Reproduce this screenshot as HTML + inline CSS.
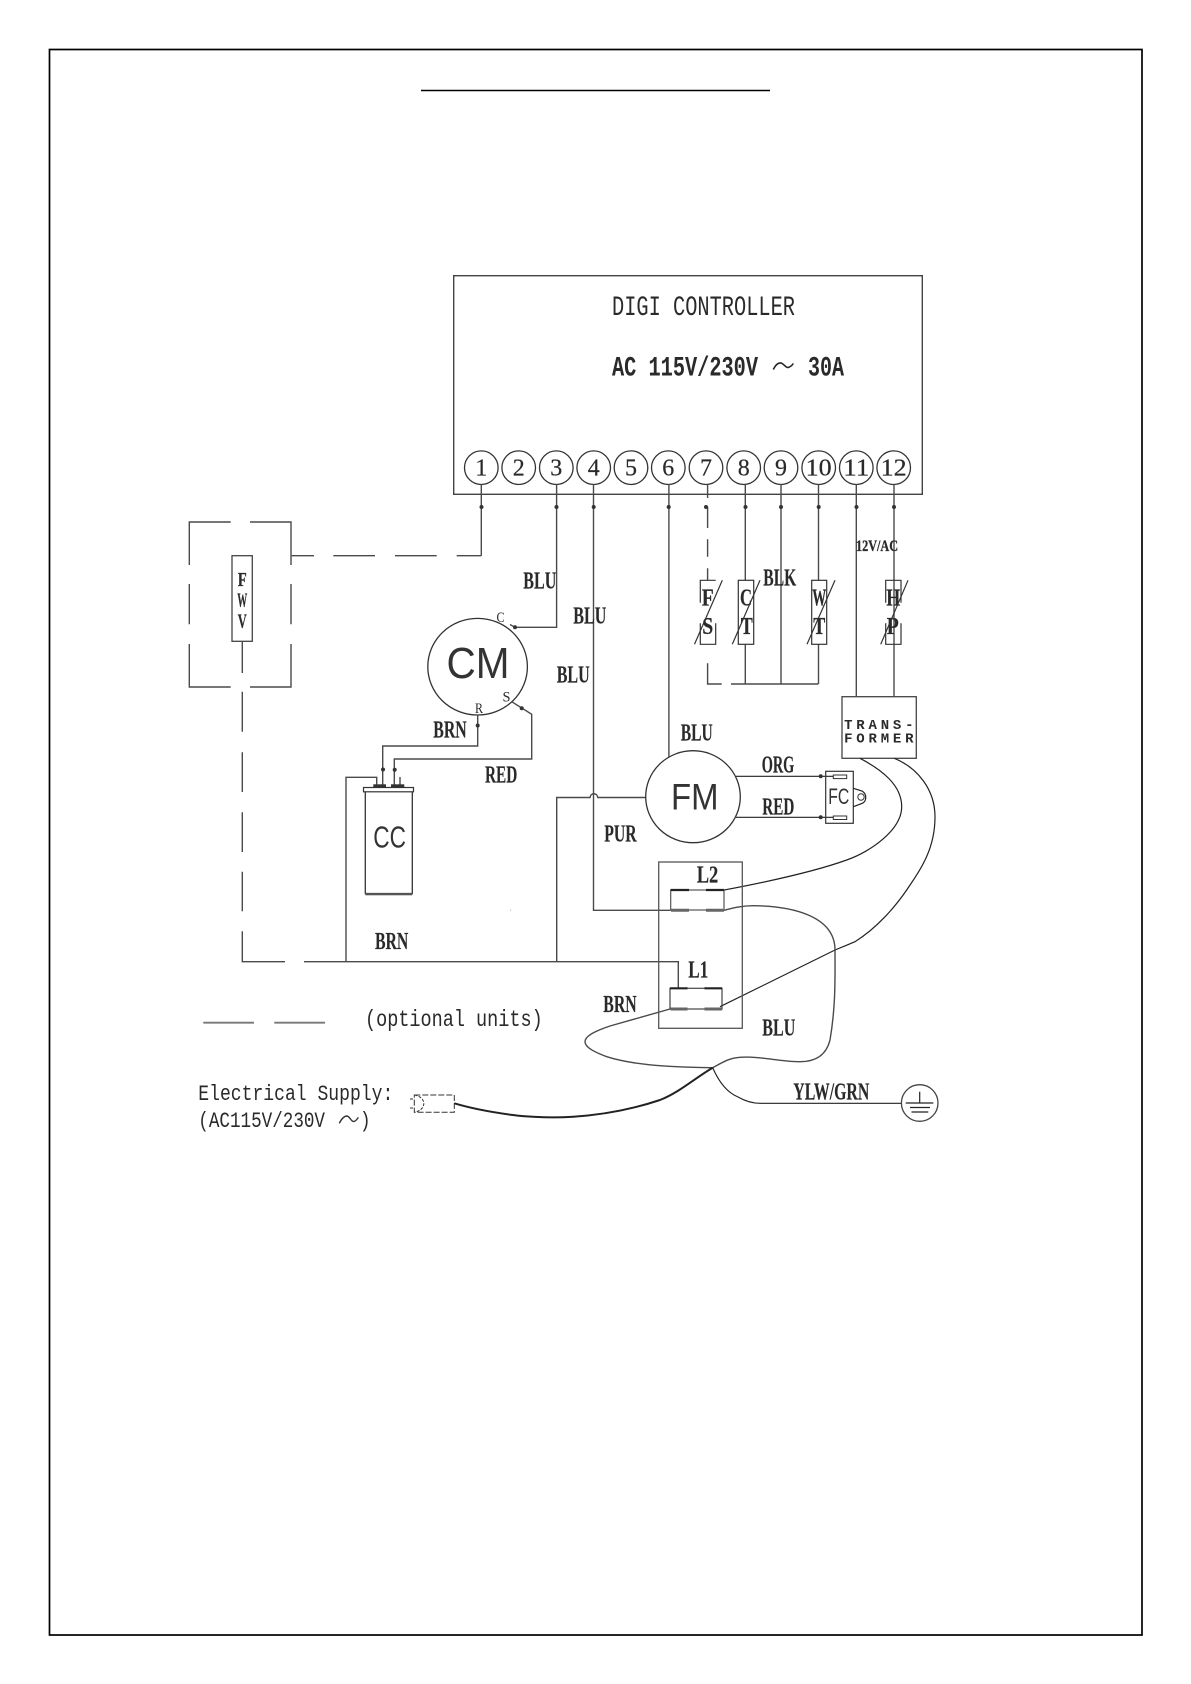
<!DOCTYPE html>
<html><head><meta charset="utf-8"><title>Wiring Diagram</title>
<style>
html,body{margin:0;padding:0;background:#fff}
svg{display:block}
.l{fill:none;stroke:#4a4a4a;stroke-width:1.4}
.k{fill:none;stroke:#222;stroke-width:1.2}
text{font-family:"Liberation Serif","Noto Serif CJK SC",serif;fill:#2a2a2a}
.b{font-weight:bold;font-size:24px;stroke:#2a2a2a;stroke-width:.15}
.m{font-family:"Liberation Mono",monospace}
.s{font-family:"Liberation Sans",sans-serif;fill:#333}
.d{font-size:24px;text-anchor:middle;stroke:#2a2a2a;stroke-width:.2}
.c{font-weight:bold;font-size:24px;text-anchor:middle;stroke:#2a2a2a;stroke-width:.2}
.o{fill:#333}
</style></head><body>
<svg width="1191" height="1684" viewBox="0 0 1191 1684" xmlns="http://www.w3.org/2000/svg">
<rect x="49.5" y="49.5" width="1092.5" height="1585.5" fill="none" stroke="#000" stroke-width="1.7"/>
<line x1="421" y1="90.5" x2="770" y2="90.5" stroke="#000" stroke-width="1.5"/>

<!-- controller -->
<rect x="453.7" y="275.7" width="468.6" height="218.6" fill="none" stroke="#444" stroke-width="1.4"/>
<text transform="translate(612,315) scale(1,1.35)" class="m" style="font-size:20.3px" textLength="183" lengthAdjust="spacingAndGlyphs">DIGI CONTROLLER</text>
<text transform="translate(612,375.7) scale(1,1.35)" class="m" style="font-size:20.3px;font-weight:bold" textLength="146" lengthAdjust="spacingAndGlyphs">AC 115V/230V</text>
<path d="M773.3 369.5C776 364 779 362.5 781 363C784 364 786 368 788 367.5C790 367 792 365.5 793.3 363.5" fill="none" stroke="#222" stroke-width="1.6"/>
<text transform="translate(808,375.7) scale(1,1.35)" class="m" style="font-size:20.3px;font-weight:bold" textLength="36" lengthAdjust="spacingAndGlyphs">30A</text>

<g fill="#fff" stroke="#333" stroke-width="1.3">
<circle cx="481.3" cy="467.7" r="16.8"/><circle cx="518.7" cy="467.7" r="16.8"/><circle cx="556.3" cy="467.7" r="16.8"/><circle cx="593.7" cy="467.7" r="16.8"/><circle cx="631" cy="467.7" r="16.8"/><circle cx="668.3" cy="467.7" r="16.8"/><circle cx="706" cy="467.7" r="16.8"/><circle cx="743.7" cy="467.7" r="16.8"/><circle cx="781" cy="467.7" r="16.8"/><circle cx="818.7" cy="467.7" r="16.8"/><circle cx="856.3" cy="467.7" r="16.8"/><circle cx="893.7" cy="467.7" r="16.8"/>
</g>
<text class="d" x="481.3" y="475.5">1</text><text class="d" x="518.7" y="475.5">2</text><text class="d" x="556.3" y="475.5">3</text><text class="d" x="593.7" y="475.5">4</text><text class="d" x="631" y="475.5">5</text><text class="d" x="668.3" y="475.5">6</text><text class="d" x="706" y="475.5">7</text><text class="d" x="743.7" y="475.5">8</text><text class="d" x="781" y="475.5">9</text>
<text class="d" x="818.7" y="475.5" textLength="26" lengthAdjust="spacingAndGlyphs">10</text><text class="d" x="856.3" y="475.5" textLength="26" lengthAdjust="spacingAndGlyphs">11</text><text class="d" x="893.7" y="475.5" textLength="26" lengthAdjust="spacingAndGlyphs">12</text>

<!-- vertical leads -->
<path class="l" d="M481.3 484.5V555.7M456.7 555.7H481.3M395 555.7H436.7M333.3 555.7H375M291.7 555.7H314"/>
<path class="l" d="M556.6 484.5V627.3H515M510 624.5L515 627.3"/>
<path class="l" d="M593.5 484.5V910.3H670.7"/>
<path class="l" d="M668.9 484.5V756.7"/>
<path class="l" d="M707.6 484.5V498M707.6 506.7V528M707.6 539.3V556.7M707.6 568.3V580.3M707.6 663.3V684H721.7M731 684H818.3"/>
<path class="l" d="M745.3 484.5V580.3M745.3 644.3V684"/>
<path class="l" d="M781 484.5V684"/>
<path class="l" d="M818.5 484.5V580.3M818.5 644.3V684"/>
<path class="l" d="M856.3 484.5V696.7"/>
<path class="l" d="M894 484.5V696.7"/>
<g class="o">
<circle cx="481.5" cy="507" r="2"/><circle cx="556.5" cy="507" r="2"/><circle cx="593.7" cy="507" r="2"/><circle cx="668.7" cy="507" r="2"/><circle cx="706" cy="507" r="2"/><circle cx="745.5" cy="507" r="2"/><circle cx="781" cy="507" r="2"/><circle cx="818.7" cy="507" r="2"/><circle cx="856.5" cy="507" r="2"/><circle cx="894" cy="507" r="2"/>
</g>
<text x="856" y="551" style="font-weight:bold;font-size:16px;stroke:#2a2a2a;stroke-width:.3" textLength="42" lengthAdjust="spacingAndGlyphs">12V/AC</text>
<text x="523.3" y="588.3" class="b" textLength="33" lengthAdjust="spacingAndGlyphs">BLU</text>
<text x="573.3" y="623.3" class="b" textLength="33" lengthAdjust="spacingAndGlyphs">BLU</text>
<text x="556.7" y="682.3" class="b" textLength="33" lengthAdjust="spacingAndGlyphs">BLU</text>
<text x="763.3" y="585.7" class="b" textLength="33" lengthAdjust="spacingAndGlyphs">BLK</text>

<!-- FWV -->
<path class="l" d="M230.7 522H189.3V565M189.3 584V624.3M189.3 644V687H230.7M250 687H291V644M291 624.3V584M291 565V522H250"/>
<rect x="232" y="555.7" width="20.3" height="85.6" fill="#fff" stroke="#444" stroke-width="1.3"/>
<text class="c" x="242.2" y="586" style="font-size:20px" textLength="9" lengthAdjust="spacingAndGlyphs">F</text>
<text class="c" x="242.2" y="606.7" style="font-size:20px" textLength="10" lengthAdjust="spacingAndGlyphs">W</text>
<text class="c" x="242.2" y="627.7" style="font-size:20px" textLength="9" lengthAdjust="spacingAndGlyphs">V</text>
<path class="l" d="M242.3 641V673M242.3 691.7V731.7M242.3 752.3V792M242.3 812.3V852M242.3 871.7V911.3M242.3 931.3V961.7H285M304 961.7H678.3V988.3"/>

<!-- CM -->
<ellipse cx="477.6" cy="666.7" rx="49.8" ry="48.3" fill="none" stroke="#333" stroke-width="1.3"/>
<text x="446.5" y="678" class="s" style="font-size:44px" textLength="63" lengthAdjust="spacingAndGlyphs">CM</text>
<text x="496.5" y="622" style="font-size:15px" textLength="8" lengthAdjust="spacingAndGlyphs">C</text>
<text x="502.5" y="701.7" style="font-size:15px" textLength="8" lengthAdjust="spacingAndGlyphs">S</text>
<text x="475" y="713" style="font-size:15px" textLength="8" lengthAdjust="spacingAndGlyphs">R</text>
<path class="l" d="M477.7 715V746H382.7V786"/>
<path class="l" d="M511.7 701.7L531.7 714.3V759H394.3V786"/>
<g class="o"><circle cx="515" cy="627.3" r="2"/><circle cx="477.7" cy="725.5" r="2"/><circle cx="521.7" cy="708.3" r="2"/><circle cx="383" cy="769.5" r="2"/><circle cx="394.7" cy="769.7" r="2"/></g>
<text x="433.3" y="737.3" class="b" textLength="33.4" lengthAdjust="spacingAndGlyphs">BRN</text>
<text x="485" y="782.7" class="b" textLength="32.3" lengthAdjust="spacingAndGlyphs">RED</text>

<!-- CC -->
<path class="l" d="M346 961.7V777.3H376.7V785"/>
<path class="l" d="M400 777V785"/>
<rect x="373.3" y="784.3" width="12.7" height="3" fill="#333"/>
<rect x="391" y="784.3" width="13.3" height="3" fill="#333"/>
<rect x="363.5" y="787.5" width="50" height="4.3" fill="#fff" stroke="#333" stroke-width="1.2"/>
<path d="M365.3 791.8V893.5H412.3V791.8" fill="none" stroke="#333" stroke-width="1.3"/>
<rect x="365.3" y="893" width="47" height="2.3" fill="#555"/>
<text x="373.3" y="847.7" class="s" style="font-size:31px" textLength="32.7" lengthAdjust="spacingAndGlyphs">CC</text>
<text x="375" y="949" class="b" textLength="33.3" lengthAdjust="spacingAndGlyphs">BRN</text>
<rect x="510" y="909.5" width="1" height="1" fill="#aaa"/>

<!-- PUR -->
<path class="l" d="M556.7 961.7V797.5H590C590.8 792.5 597 792.5 597.8 797.5H645.7"/>
<text x="604.3" y="841.7" class="b" textLength="32.4" lengthAdjust="spacingAndGlyphs">PUR</text>

<!-- FM -->
<ellipse cx="693" cy="796.7" rx="47.3" ry="46" fill="none" stroke="#333" stroke-width="1.3"/>
<text x="671" y="809.3" class="s" style="font-size:37px" textLength="47.5" lengthAdjust="spacingAndGlyphs">FM</text>
<text x="680.7" y="740.7" class="b" textLength="32" lengthAdjust="spacingAndGlyphs">BLU</text>
<text x="761.7" y="772.7" class="b" textLength="32.6" lengthAdjust="spacingAndGlyphs">ORG</text>
<text x="762.3" y="814.3" class="b" textLength="32" lengthAdjust="spacingAndGlyphs">RED</text>
<path class="k" d="M736 776.3H833M736 817.3H833"/>
<g class="o"><circle cx="820.7" cy="776.3" r="2"/><circle cx="820.7" cy="817.3" r="2"/></g>
<rect x="825.7" y="771.3" width="27.6" height="52" fill="none" stroke="#333" stroke-width="1.2"/>
<rect x="833.3" y="775" width="13.4" height="3.6" fill="#fff" stroke="#333" stroke-width="1"/>
<rect x="833.3" y="816" width="13.4" height="3.5" fill="#fff" stroke="#333" stroke-width="1"/>
<path class="k" d="M853.3 788.3L862 791C867 794 867 801 862 803.5L853.3 806.7"/>
<circle cx="861" cy="797" r="3.2" fill="none" stroke="#333" stroke-width="1"/>
<text x="828.3" y="804" class="s" style="font-size:22px" textLength="21" lengthAdjust="spacingAndGlyphs">FC</text>

<!-- sensors -->
<g fill="none" stroke="#333" stroke-width="1.2">
<path d="M700.3 602.7V580.3H715.7M700.3 623.3V644.3H715.7V623.3"/>
<rect x="738.3" y="580.3" width="15.4" height="64"/>
<rect x="811.7" y="580.3" width="15" height="64"/>
<path d="M885.7 602.7V580.3H901V602.7M885.7 623.3V644.3H901V623.3"/>
<path d="M722.3 580.3L694.5 644.3M760 580.3L732.3 644.3M835 580.3L807 644.3M908 580.3L880.7 644.3"/>
</g>
<text class="c" x="707.7" y="605.7" textLength="12" lengthAdjust="spacingAndGlyphs">F</text>
<text class="c" x="707.7" y="634" textLength="11" lengthAdjust="spacingAndGlyphs">S</text>
<text class="c" x="746" y="605.7" textLength="12" lengthAdjust="spacingAndGlyphs">C</text>
<text class="c" x="746.7" y="634" textLength="12" lengthAdjust="spacingAndGlyphs">T</text>
<text class="c" x="819.3" y="605.7" textLength="14" lengthAdjust="spacingAndGlyphs">W</text>
<text class="c" x="819.3" y="634" textLength="12" lengthAdjust="spacingAndGlyphs">T</text>
<text class="c" x="893.3" y="605.7" textLength="14" lengthAdjust="spacingAndGlyphs">H</text>
<text class="c" x="892.7" y="634" textLength="12" lengthAdjust="spacingAndGlyphs">P</text>

<!-- transformer -->
<rect x="842" y="696.7" width="74.3" height="61.6" fill="#fff" stroke="#444" stroke-width="1.3"/>
<text x="848.3 860.5 872.7 884.9 897.1 909.3" y="729" text-anchor="middle" class="m" style="font-size:14px;font-weight:bold">TRANS-</text>
<text x="848.3 860.5 872.7 884.9 897.1 909.3" y="742.3" text-anchor="middle" class="m" style="font-size:14px;font-weight:bold">FORMER</text>

<!-- curves -->
<path class="k" d="M860 758.3C882 770 901.7 785 901.7 806.7C901.7 830 870 852 846.7 860C830 866 793 877 724.3 890"/>
<path class="k" d="M894.3 758.3C918 768 935 790 935 816.7C935 850 920 870 906.7 890C895 907 877 928 855 941.7C845 946 840 948 835 950L720 1006.7"/>
<path class="l" d="M724 910.3C735 907.5 743 905.7 753.3 905.7C790 906 835 915 835 950C835 975 836 1005 830 1040C826 1056 815 1061.7 800 1061.7C780 1061.7 760 1056 740 1057.3C728 1058 720 1064 712.7 1067.7"/>
<path class="l" d="M670 1009L610 1026C595 1031 585 1036 585 1041.7C585 1048 597 1053 606.7 1056.7C630 1064 660 1067 712.7 1067.7"/>
<path d="M712.7 1067.7C695 1078 680 1092 660 1100C630 1110 600 1115 573.3 1116.7C545 1118.5 520 1116 513 1115C490 1112 470 1108 454.3 1103.3" fill="none" stroke="#222" stroke-width="2"/>
<path class="k" d="M712.7 1067.7C718 1080 726 1092 738 1097C745 1101 752 1103.3 760 1103.3H901"/>
<text x="793.3" y="1099.3" class="b" textLength="76" lengthAdjust="spacingAndGlyphs">YLW/GRN</text>
<circle cx="919.7" cy="1103" r="18.3" fill="none" stroke="#444" stroke-width="1.3"/>
<path class="k" d="M919.7 1091.7V1103M905.7 1103H933.3M910 1107.5H930M911.5 1112H928.3"/>
<text x="762.3" y="1035.7" class="b" textLength="33" lengthAdjust="spacingAndGlyphs">BLU</text>
<text x="603.3" y="1012" class="b" textLength="33.4" lengthAdjust="spacingAndGlyphs">BRN</text>

<!-- L1 / L2 -->
<rect x="658.7" y="862" width="83.6" height="166.3" fill="none" stroke="#555" stroke-width="1.3"/>
<rect x="670.7" y="890" width="53.3" height="20" fill="none" stroke="#555" stroke-width="1.2"/>
<path d="M670.7 890H689M706 890H724" stroke="#222" stroke-width="2.2" fill="none"/>
<path d="M671 910.3H689M706 910.3H724" stroke="#666" stroke-width="3" fill="none"/>
<rect x="670" y="988.3" width="52" height="20.7" fill="none" stroke="#444" stroke-width="1.2"/>
<path d="M670 988.3H687.5M704.5 988.3H722" stroke="#222" stroke-width="2.2" fill="none"/>
<path d="M670.5 1009H687.5M704.5 1009H722" stroke="#666" stroke-width="3" fill="none"/>
<text x="696.7" y="882.7" class="b" textLength="21.6" lengthAdjust="spacingAndGlyphs">L2</text>
<text x="688.3" y="977.3" class="b" textLength="20" lengthAdjust="spacingAndGlyphs">L1</text>

<!-- legend -->
<path d="M203.3 1022.7H254M274.3 1022.7H325" stroke="#777" stroke-width="1.8" fill="none"/>
<text transform="translate(365,1026) scale(1,1.25)" class="m" style="font-size:18.5px" textLength="177.7" lengthAdjust="spacingAndGlyphs">(optional units)</text>
<text transform="translate(198.3,1100) scale(1,1.25)" class="m" style="font-size:18px" textLength="195" lengthAdjust="spacingAndGlyphs">Electrical Supply:</text>
<text transform="translate(198.3,1127) scale(1,1.25)" class="m" style="font-size:17.6px" textLength="126.7" lengthAdjust="spacingAndGlyphs">(AC115V/230V</text>
<path d="M339.3 1123.3C342 1118 345 1116 347 1116C350 1116.5 351 1121.5 353.5 1121.5C355.5 1121.5 357 1119.5 358.3 1117.3" fill="none" stroke="#333" stroke-width="1.4"/>
<text transform="translate(360,1127) scale(1,1.25)" class="m" style="font-size:17.6px">)</text>
<path d="M414.3 1095H454.3V1112.3H414.3Z" fill="none" stroke="#333" stroke-width="1" stroke-dasharray="6 2"/>
<path d="M414.3 1095C427 1097 427 1110 414.3 1112.3M410 1099H414.3M410 1108H414.3" fill="none" stroke="#333" stroke-width="1" stroke-dasharray="3 1.5"/>
</svg>
</body></html>
